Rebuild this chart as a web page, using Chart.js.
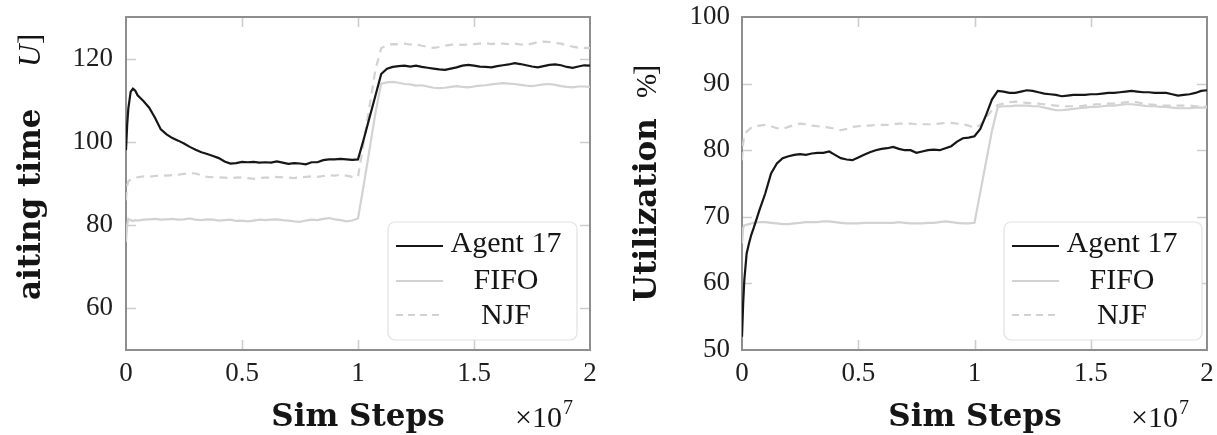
<!DOCTYPE html>
<html>
<head>
<meta charset="utf-8">
<script src="https://cdn.jsdelivr.net/npm/chart.js@4/dist/chart.umd.min.js"></script>
<style>
  html, body { margin: 0; padding: 0; background: #fff; }
  #wrap { position: relative; width: 1217px; height: 435px; overflow: hidden; }
  .panel { position: absolute; top: 0; height: 435px; }
  #p1 { left: 0; width: 600px; }
  #p2 { left: 600px; width: 617px; }
</style>
</head>
<body>
<div id="wrap">
  <div class="panel" id="p1"><canvas id="c1"></canvas></div>
  <div class="panel" id="p2"><canvas id="c2"></canvas></div>
</div>
<script>
// Simulation steps (in units of 1e7)
const steps = [
  0, 0.005, 0.01, 0.02, 0.03, 0.04, 0.05,
  0.075, 0.1, 0.125, 0.15, 0.175, 0.2, 0.225, 0.25, 0.275, 0.3,
  0.325, 0.35, 0.375, 0.4, 0.425, 0.45, 0.475, 0.5, 0.525, 0.55,
  0.575, 0.6, 0.625, 0.65, 0.675, 0.7, 0.725, 0.75, 0.775, 0.8,
  0.825, 0.85, 0.875, 0.9, 0.925, 0.95, 0.975, 1.0,
  1.025, 1.05, 1.075,
  1.1, 1.125, 1.15, 1.175, 1.2, 1.225, 1.25, 1.275, 1.3, 1.325,
  1.35, 1.375, 1.4, 1.425, 1.45, 1.475, 1.5, 1.525, 1.55, 1.575,
  1.6, 1.625, 1.65, 1.675, 1.7, 1.725, 1.75, 1.775, 1.8, 1.825,
  1.85, 1.875, 1.9, 1.925, 1.95, 1.975, 2.0
];

// Waiting time [U]
const waitAgent = [
  98, 104, 108, 112, 112.8, 112.3, 111.2,
  109.8, 108.2, 105.8, 103, 101.8, 100.9, 100.3, 99.6, 98.8, 98.1,
  97.5, 97.1, 96.6, 96.1, 95.3, 94.8, 94.9, 95.2, 95.1, 95.2,
  95.0, 95.1, 95.0, 95.3, 95.0, 94.7, 94.9, 94.8, 94.6, 95.1,
  95.1, 95.6, 95.8, 95.8, 95.9, 95.8, 95.7, 95.8,
  100.7, 105.9, 111.1,
  116.3, 117.6, 118.0, 118.2, 118.3, 118.1, 118.3, 118.0, 117.8, 117.6,
  117.4, 117.3, 117.6, 117.9, 118.3, 118.5, 118.3, 118.1, 118.0, 117.9,
  118.2, 118.4, 118.6, 118.9, 118.7, 118.4, 118.1, 117.9, 118.2, 118.5,
  118.6, 118.4, 118.0, 117.8, 118.1, 118.4, 118.3
];
const waitFIFO = [
  76, 80, 81.5, 81.2, 81.0, 81.2, 81.1,
  81.3, 81.4, 81.5, 81.3, 81.4, 81.5, 81.3, 81.4, 81.6, 81.3,
  81.2, 81.4, 81.3, 81.1, 81.2, 81.3, 81.0, 81.1, 80.9, 81.1,
  81.3, 81.2, 81.3, 81.4, 81.2, 81.1, 80.9, 80.8, 81.1, 81.3,
  81.2, 81.5, 81.7, 81.4, 81.2, 80.9, 81.1, 81.6,
  89.7, 98.3, 106.9,
  114.0, 114.3, 114.4, 114.2, 113.9, 113.8, 113.5, 113.6, 113.3, 113.0,
  112.9, 113.0, 113.2, 113.4, 113.2, 113.1, 113.3, 113.5, 113.6, 113.8,
  114.0, 114.1, 114.0, 113.9, 113.7, 113.5, 113.4, 113.6, 113.8, 113.9,
  113.7, 113.4, 113.2, 113.1, 113.3, 113.3, 113.2
];
const waitNJF = [
  86, 89.5, 90.5, 91, 91.2, 91.4, 91.5,
  91.7, 91.6, 91.8, 92.0, 91.9, 92.0, 92.1, 92.3, 92.5, 92.4,
  92.0, 91.6, 91.5, 91.5, 91.4, 91.3, 91.4, 91.5, 91.3, 91.1,
  91.3, 91.4, 91.4, 91.6, 91.5, 91.4, 91.3, 91.5, 91.6, 91.7,
  91.6, 91.8, 92.0, 91.9, 92.1, 91.9, 91.6, 91.6,
  100, 108.6, 117.3,
  122.5, 123.3, 123.5, 123.4, 123.6, 123.4, 123.5, 123.1, 122.8, 122.6,
  122.8, 123.1, 123.3, 123.4, 123.3, 123.4, 123.5, 123.6, 123.7, 123.5,
  123.7, 123.6, 123.5, 123.6, 123.4, 123.3, 123.6, 123.9, 124.1, 124.0,
  123.8, 123.6, 123.2, 122.9, 122.6, 122.6, 122.5
];

// Utilization [%]
const utilAgent = [
  52, 57, 60.5, 64.5, 66, 67.3, 68.3,
  71, 73.5, 76.5, 78, 78.8, 79.1, 79.3, 79.4, 79.3, 79.5,
  79.6, 79.6, 79.8, 79.3, 78.8, 78.6, 78.5, 78.9, 79.3, 79.7,
  80.0, 80.2, 80.3, 80.5, 80.2, 80.0, 80.0, 79.6, 79.8, 80.0,
  80.1, 80.0, 80.3, 80.6, 81.3, 81.8, 81.9, 82.1,
  83.2, 85.3, 87.6,
  88.9, 88.8, 88.6, 88.6, 88.8, 89.0, 88.9, 88.7, 88.5, 88.4,
  88.3, 88.1, 88.2, 88.3, 88.3, 88.3, 88.4, 88.4, 88.5, 88.6,
  88.6, 88.7, 88.8, 88.9, 88.8, 88.7, 88.7, 88.6, 88.6, 88.6,
  88.4, 88.2, 88.3, 88.4, 88.6, 88.9, 89.0
];
const utilFIFO = [
  66, 68.3, 68.7, 68.8, 68.9, 69.0, 69.1,
  69.2, 69.2, 69.1, 69.0, 68.9, 68.9, 69.0, 69.1, 69.2, 69.2,
  69.2, 69.3, 69.3, 69.2, 69.1, 69.0, 69.0, 69.0, 69.1, 69.1,
  69.1, 69.1, 69.1, 69.1, 69.2, 69.1, 69.0, 69.0, 69.0, 69.1,
  69.1, 69.2, 69.3, 69.2, 69.1, 69.0, 69.0, 69.1,
  73.7, 78.3, 82.9,
  86.5, 86.6, 86.6, 86.7, 86.7, 86.7, 86.6, 86.6, 86.4, 86.2,
  86.0, 86.0, 86.1, 86.2, 86.3, 86.4, 86.5, 86.5, 86.6, 86.7,
  86.7, 86.8, 86.9, 86.9, 86.8, 86.7, 86.6, 86.6, 86.5, 86.5,
  86.4, 86.3, 86.3, 86.3, 86.4, 86.4, 86.4
];
const utilNJF = [
  78.5, 81, 82.3, 82.8, 83.1, 83.4, 83.6,
  83.7, 83.8, 83.6, 83.3, 83.2, 83.5, 83.8, 84.0, 83.9, 83.7,
  83.6, 83.5, 83.4, 83.2, 83.0, 83.2, 83.5, 83.6, 83.7, 83.7,
  83.8, 83.8, 83.8, 83.9, 84.0, 84.0, 84.0, 83.9, 83.9, 83.9,
  83.9, 84.0, 84.1, 84.1, 84.0, 83.9, 83.7, 83.3,
  83.8, 84.9, 86.0,
  86.8, 87.0, 87.2, 87.3, 87.2, 87.1, 87.0, 87.0, 86.9, 86.8,
  86.7, 86.6, 86.6, 86.6, 86.6, 86.7, 86.8, 86.9, 86.9, 87.0,
  87.0, 87.1, 87.2, 87.3, 87.2, 87.0, 86.9, 86.8, 86.7, 86.7,
  86.7, 86.7, 86.7, 86.7, 86.6, 86.6, 86.6
];

// Tick values
const xTickValues = [0, 0.5, 1, 1.5, 2];
const waitTickValues = [60, 80, 100, 120];
const utilTickValues = [50, 60, 70, 80, 90, 100];

const seriesNames = ['Agent 17', 'FIFO', 'NJF'];

const SERIF = '"Liberation Serif", "Times New Roman", serif';
const BOLD_SERIF = '"DejaVu Serif", serif';
const lineStyles = [
  { borderColor: '#161616', borderWidth: 2.2, borderDash: [] },
  { borderColor: '#d2d2d2', borderWidth: 2.2, borderDash: [] },
  { borderColor: '#d2d2d2', borderWidth: 2.2, borderDash: [8, 6] }
];

function toPoints(values) {
  return values.map((v, i) => ({ x: steps[i], y: v }));
}

function noScalePadding(s) {
  s.paddingLeft = 0; s.paddingRight = 0; s.paddingTop = 0; s.paddingBottom = 0;
}

// Frame, inward ticks, legend box and axis titles
const decor = {
  id: 'decor',
  beforeDatasetsDraw(chart, args, o) {
    const { ctx, chartArea: a, scales: { x, y } } = chart;
    ctx.save();
    ctx.strokeStyle = '#cdcdcd';
    ctx.lineWidth = 1.6;
    ctx.beginPath();
    for (const v of xTickValues) {
      if (v <= x.min || v >= x.max) continue;
      const px = Math.round(x.getPixelForValue(v)) + 0.5;
      ctx.moveTo(px, a.bottom); ctx.lineTo(px, a.bottom - 10);
      ctx.moveTo(px, a.top); ctx.lineTo(px, a.top + 10);
    }
    for (const v of o.yTicks) {
      if (v <= y.min || v >= y.max) continue;
      const py = Math.round(y.getPixelForValue(v)) + 0.5;
      ctx.moveTo(a.left, py); ctx.lineTo(a.left + 10, py);
      ctx.moveTo(a.right, py); ctx.lineTo(a.right - 10, py);
    }
    ctx.stroke();
    ctx.strokeStyle = '#8e8e8e';
    ctx.lineWidth = 2;
    ctx.strokeRect(a.left, a.top, a.right - a.left, a.bottom - a.top);
    ctx.restore();
  },
  afterDraw(chart, args, o) {
    const { ctx } = chart;
    ctx.save();
    // legend
    const L = o.legend;
    ctx.fillStyle = '#ffffff';
    ctx.strokeStyle = '#e2e2e2';
    ctx.lineWidth = 1.2;
    ctx.beginPath();
    ctx.roundRect(L.x0, L.y0, L.x1 - L.x0, L.y1 - L.y0, 7);
    ctx.fill();
    ctx.stroke();
    const lineY = [246, 281, 315];
    const baseY = [252, 289, 324];
    chart.data.datasets.forEach((ds, i) => {
      ctx.strokeStyle = ds.borderColor;
      ctx.lineWidth = ds.borderWidth;
      ctx.setLineDash(i === 2 ? [7, 5] : []);
      ctx.beginPath();
      ctx.moveTo(L.x0 + 8, lineY[i]);
      ctx.lineTo(L.x0 + 55, lineY[i]);
      ctx.stroke();
      ctx.setLineDash([]);
      ctx.fillStyle = '#151515';
      ctx.font = '30px ' + SERIF;
      ctx.textAlign = 'center';
      ctx.textBaseline = 'alphabetic';
      ctx.fillText(ds.label, L.x0 + 118, baseY[i]);
    });
    // x title and multiplier
    ctx.fillStyle = '#151515';
    ctx.textAlign = 'center';
    ctx.font = 'bold 31px ' + BOLD_SERIF;
    ctx.fillText('Sim Steps', o.xTitleX, 426);
    ctx.textAlign = 'left';
    ctx.font = '30px ' + SERIF;
    ctx.fillText('\u00d710', o.mulX, 427);
    const w = ctx.measureText('\u00d710').width;
    ctx.font = '20px ' + SERIF;
    ctx.fillText('7', o.mulX + w + 1, 414);
    // y title, rotated, drawn in pieces from bottom to top
    ctx.save();
    ctx.translate(o.yTitleBase, 0);
    ctx.rotate(-Math.PI / 2);
    ctx.textAlign = 'left';
    for (const seg of o.yTitle) {
      ctx.font = seg.font;
      ctx.fillText(seg.text, -seg.start, 0);
    }
    ctx.restore();
    ctx.restore();
  }
};

function makeChart(id, values, yMin, yMax, yTicks, opts) {
  const datasets = values.map((vals, i) => ({
    label: seriesNames[i],
    data: toPoints(vals),
    borderColor: lineStyles[i].borderColor,
    borderWidth: lineStyles[i].borderWidth,
    borderDash: lineStyles[i].borderDash,
    pointRadius: 0,
    tension: 0,
    fill: false
  }));
  // agent line drawn last so it sits on top
  const order = [0, 2, 1];
  datasets.forEach((d, i) => { d.order = order[i]; });
  return new Chart(document.getElementById(id), {
    type: 'line',
    data: { datasets },
    options: {
      responsive: true,
      maintainAspectRatio: false,
      animation: false,
      layout: { padding: { top: 17, right: opts.padRight, left: 0, bottom: 0 } },
      plugins: {
        legend: { display: false },
        tooltip: { enabled: false },
        decor: Object.assign({ yTicks }, opts.decor)
      },
      scales: {
        x: {
          type: 'linear', min: 0, max: 2,
          afterBuildTicks: s => { s.ticks = xTickValues.map(v => ({ value: v })); },
          afterFit: s => { s.height = 85; noScalePadding(s); },
          grid: { display: false, drawTicks: false },
          border: { display: false },
          ticks: {
            padding: 8, color: '#1e1e1e', maxRotation: 0,
            font: { family: SERIF, size: 27 },
            callback: v => String(v)
          }
        },
        y: {
          type: 'linear', min: yMin, max: yMax,
          afterBuildTicks: s => { s.ticks = yTicks.map(v => ({ value: v })); },
          afterFit: s => { s.width = opts.yWidth; noScalePadding(s); },
          grid: { display: false, drawTicks: false },
          border: { display: false },
          ticks: {
            padding: opts.yPad, color: '#1e1e1e',
            font: { family: SERIF, size: 27 },
            callback: v => String(v)
          }
        }
      }
    },
    plugins: [decor]
  });
}

makeChart('c1', [waitAgent, waitFIFO, waitNJF], 50, 130, waitTickValues, {
  padRight: 10, yWidth: 126, yPad: 13,
  decor: {
    legend: { x0: 388, y0: 222, x1: 577, y1: 340 },
    xTitleX: 358, mulX: 515, yTitleBase: 40,
    yTitle: [
      { text: 'aiting time', font: 'bold 31px ' + BOLD_SERIF, start: 300 },
      { text: 'U', font: 'italic 31px ' + SERIF, start: 67 },
      { text: ']', font: '31px ' + SERIF, start: 44 }
    ]
  }
});

makeChart('c2', [utilAgent, utilFIFO, utilNJF], 50, 100, utilTickValues, {
  padRight: 10, yWidth: 142, yPad: 12,
  decor: {
    legend: { x0: 404, y0: 222, x1: 602, y1: 340 },
    xTitleX: 375, mulX: 531, yTitleBase: 56,
    yTitle: [
      { text: 'Utilization', font: 'bold 31px ' + BOLD_SERIF, start: 302 },
      { text: '%', font: '29px ' + SERIF, start: 98 },
      { text: ']', font: '31px ' + SERIF, start: 75 }
    ]
  }
});
</script>
</body>
</html>
